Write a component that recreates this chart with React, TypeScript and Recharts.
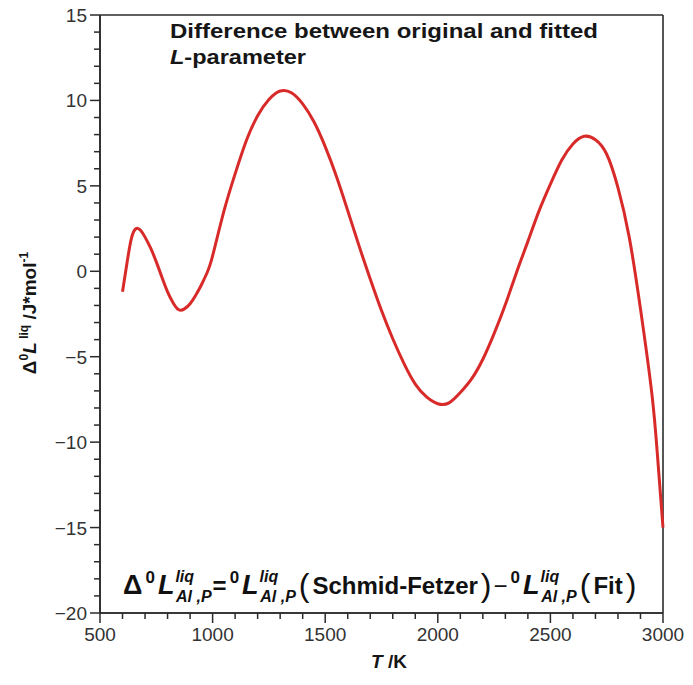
import React from "react";
import { LineChart, Line, XAxis, YAxis, CartesianGrid } from "recharts";

// temperature (K) and difference of the 0L parameter (J/mol)
const temps = [
  600, 620, 640, 660, 680, 700, 725, 750, 775, 800, 825, 850, 875, 900, 925, 950, 975,
  1000, 1050, 1100, 1150, 1200, 1250, 1300, 1350, 1400, 1450, 1500, 1550, 1600, 1650,
  1700, 1750, 1800, 1850, 1900, 1950, 2000, 2050, 2100, 2150, 2200, 2250, 2300, 2350,
  2400, 2450, 2500, 2550, 2600, 2650, 2700, 2750, 2800, 2850, 2900, 2950, 2975, 3000,
];
const deltaL = [
  -1.2, 0.5, 1.95, 2.5, 2.4, 2.0, 1.35, 0.55, -0.35, -1.2, -1.85, -2.25, -2.2, -1.9, -1.4, -0.8, -0.1,
  0.9, 3.5, 5.7, 7.65, 9.1, 10.05, 10.55, 10.45, 9.8, 8.75, 7.3, 5.55, 3.55, 1.5,
  -0.45, -2.3, -3.95, -5.4, -6.6, -7.35, -7.75, -7.7, -7.1, -6.3, -5.15, -3.65, -1.95, -0.05,
  1.75, 3.55, 5.1, 6.5, 7.45, 7.9, 7.7, 6.85, 4.9, 2.0, -2.2, -7.1, -10.7, -15.0,
];

const xTicks = [
  500, 600, 700, 800, 900, 1000, 1100, 1200, 1300, 1400, 1500, 1600, 1700, 1800, 1900,
  2000, 2100, 2200, 2300, 2400, 2500, 2600, 2700, 2800, 2900, 3000,
];
const yTicks = [
  -20, -19, -18, -17, -16, -15, -14, -13, -12, -11, -10, -9, -8, -7, -6, -5, -4, -3, -2, -1,
  0, 1, 2, 3, 4, 5, 6, 7, 8, 9, 10, 11, 12, 13, 14, 15,
];

const data = temps.map((t, i) => ({ t, dL: deltaL[i] }));

const AXIS = "#2b2b2b";
const INK = "#161616";
const FONT = "'Liberation Sans', Arial, sans-serif";

function XTick(props: any) {
  const { x, y, payload } = props;
  const major = payload.value % 500 === 0;
  return (
    <g>
      <line x1={x} x2={x} y1={y} y2={y + (major ? 10 : 6)} stroke={AXIS} strokeWidth={1.5} />
      {major && (
        <text x={x} y={y + 28} textAnchor="middle" fontSize={19} fill="#333" fontFamily={FONT}>
          {payload.value}
        </text>
      )}
    </g>
  );
}

function YTick(props: any) {
  const { x, y, payload } = props;
  const major = payload.value % 5 === 0;
  return (
    <g>
      <line x1={x} x2={x - (major ? 10 : 6)} y1={y} y2={y} stroke={AXIS} strokeWidth={1.5} />
      {major && (
        <text x={x - 13} y={y + 7} textAnchor="end" fontSize={19} fill="#333" fontFamily={FONT}>
          {String(payload.value).replace("-", "\u2212")}
        </text>
      )}
    </g>
  );
}

// big italic L with stacked liq / Al,P indices
function LTerm() {
  return (
    <>
      <tspan dx={3} fontSize={27} fontStyle="italic">L</tspan>
      <tspan dx={1} baselineShift={12} fontSize={16} fontStyle="italic">liq</tspan>
      <tspan dx={-18} baselineShift={-8} fontSize={16} fontStyle="italic">Al ,P</tspan>
    </>
  );
}

function Zero() {
  return (
    <tspan dx={3} baselineShift={11} fontSize={17}>0</tspan>
  );
}

function Paren({ c }: { c: string }) {
  return (
    <tspan dx={3} fontSize={32} fontWeight="normal" baselineShift={-2}>{c}</tspan>
  );
}

export default function App() {
  return (
    <div style={{ marginTop: -8, marginLeft: -8 }}>
      <LineChart
        width={693}
        height={677}
        data={data}
        margin={{ top: 15, right: 30, bottom: 0, left: 0 }}
      >
        <CartesianGrid
          stroke={AXIS}
          strokeWidth={1.6}
          horizontalCoordinatesGenerator={({ offset }: any) => [offset.top, offset.top + offset.height]}
          verticalCoordinatesGenerator={({ offset }: any) => [offset.left, offset.left + offset.width]}
        />
        <XAxis
          dataKey="t"
          type="number"
          domain={[500, 3000]}
          ticks={xTicks}
          interval={0}
          tickSize={0}
          tickMargin={0}
          tickLine={false}
          tick={<XTick />}
          height={64}
          axisLine={{ stroke: AXIS, strokeWidth: 1.6 }}
        />
        <YAxis
          type="number"
          domain={[-20, 15]}
          ticks={yTicks}
          interval={0}
          tickSize={0}
          tickMargin={0}
          tickLine={false}
          tick={<YTick />}
          width={100}
          axisLine={{ stroke: AXIS, strokeWidth: 1.6 }}
        />
        <Line
          type="natural"
          dataKey="dL"
          stroke="#d92a2a"
          strokeWidth={3}
          dot={false}
          isAnimationActive={false}
        />

        <text
          x={170}
          y={38}
          fontSize={21}
          fontWeight="bold"
          fill={INK}
          fontFamily={FONT}
          textLength={428}
          lengthAdjust="spacingAndGlyphs"
        >
          Difference between original and fitted
        </text>
        <text
          x={170}
          y={64}
          fontSize={21}
          fontWeight="bold"
          fill={INK}
          fontFamily={FONT}
          textLength={136}
          lengthAdjust="spacingAndGlyphs"
        >
          <tspan fontStyle="italic">L</tspan>-parameter
        </text>

        <text
          transform="translate(36,313) rotate(-90)"
          textAnchor="middle"
          fontSize={19}
          fontWeight="bold"
          fill={INK}
          fontFamily={FONT}
        >
          Δ<tspan baselineShift={8} fontSize={12}>0</tspan>
          <tspan fontStyle="italic">L</tspan>
          <tspan baselineShift={8} fontSize={12}> liq</tspan>
          <tspan> /J*mol</tspan>
          <tspan baselineShift={8} fontSize={12}>-1</tspan>
        </text>

        <text x={389} y={668} textAnchor="middle" fontSize={19} fontWeight="bold" fill={INK} fontFamily={FONT}>
          <tspan fontStyle="italic">T</tspan> /K
        </text>

        <text x={123} y={594} fontSize={24} fontWeight="bold" fill="#111" fontFamily={FONT}>
          <tspan fontSize={27}>Δ</tspan>
          <Zero />
          <LTerm />
          <tspan dx={1}>=</tspan>
          <Zero />
          <LTerm />
          <Paren c="(" />
          <tspan dx={3}>Schmid-Fetzer</tspan>
          <Paren c=")" />
          <tspan dx={2} fontWeight="normal">−</tspan>
          <Zero />
          <LTerm />
          <Paren c="(" />
          <tspan dx={3}>Fit</tspan>
          <Paren c=")" />
        </text>
      </LineChart>
    </div>
  );
}
